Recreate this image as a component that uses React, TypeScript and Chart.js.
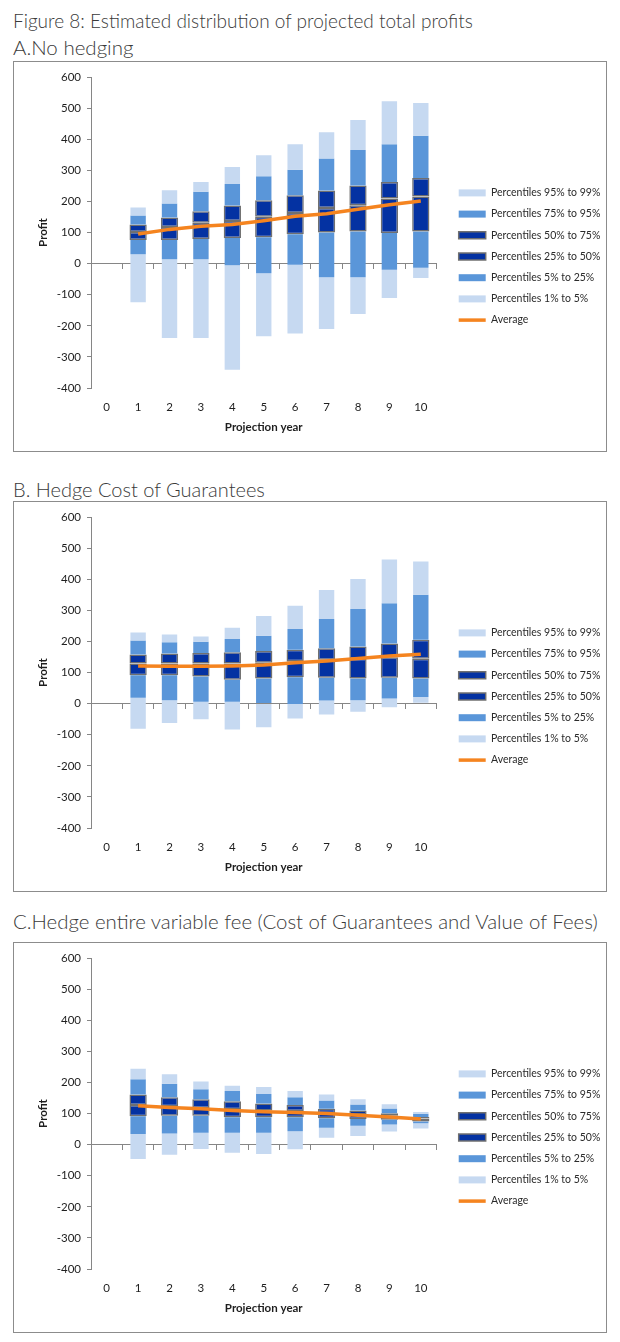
import React, { useEffect, useRef } from "react";
import { Chart, registerables } from "chart.js";

Chart.register(...registerables);

// ---------- data ----------
const years = ["0", "1", "2", "3", "4", "5", "6", "7", "8", "9", "10"];
const yTicks = [-400, -300, -200, -100, 0, 100, 200, 300, 400, 500, 600];

// A. No hedging
const aP99 = [null, 180, 236, 262, 311, 348, 384, 422, 462, 522, 516];
const aP95 = [null, 155, 193, 231, 256, 281, 302, 338, 365, 384, 411];
const aP75 = [null, 126, 148, 168, 187, 204, 220, 235, 251, 262, 275];
const aP50 = [null, 102, 118, 131, 137, 151, 163, 179, 188, 209, 216];
const aP25 = [null, 76, 76, 79, 82, 85, 94, 100, 103, 98, 103];
const aP5 = [null, 30, 14, 14, -5, -31, -4, -44, -44, -20, -13];
const aP1 = [null, -124, -239, -239, -341, -234, -225, -210, -162, -111, -46];
const aAvg = [null, 95, 110, 120, 126, 138, 152, 160, 175, 189, 201];

// B. Hedge Cost of Guarantees
const bP99 = [null, 229, 222, 216, 244, 282, 315, 365, 401, 463, 457];
const bP95 = [null, 203, 197, 199, 208, 218, 240, 272, 304, 323, 350];
const bP75 = [null, 158, 161, 163, 165, 169, 173, 178, 184, 193, 205];
const bP50 = [null, 129, 129, 129, 129, 131, 136, 141, 144, 149, 144];
const bP25 = [null, 91, 91, 87, 77, 81, 85, 83, 81, 83, 81];
const bP5 = [null, 19, 11, 6, 6, 0, -1, 10, 11, 16, 21];
const bP1 = [null, -81, -62, -50, -83, -76, -48, -35, -26, -12, 3];
const bAvg = [null, 121, 120, 120, 121, 124, 131, 137, 145, 153, 159];

// C. Hedge entire variable fee
const cP99 = [null, 244, 226, 203, 189, 185, 172, 161, 146, 130, 105];
const cP95 = [null, 210, 196, 178, 172, 163, 152, 142, 129, 116, 99];
const cP75 = [null, 161, 152, 146, 139, 132, 127, 115, 110, 101, 89];
const cP50 = [null, 127, 123, 118, 114, 110, 108, 101, 97, 93, 84];
const cP25 = [null, 91, 93, 93, 88, 88, 88, 85, 82, 80, 74];
const cP5 = [null, 34, 36, 38, 38, 38, 43, 54, 61, 65, 69];
const cP1 = [null, -46, -33, -14, -26, -30, -15, 22, 28, 42, 52];
const cAvg = [null, 125, 119, 115, 110, 106, 103, 100, 94, 89, 82];

const bandLabels = [
  "Percentiles 95% to 99%",
  "Percentiles 75% to 95%",
  "Percentiles 50% to 75%",
  "Percentiles 25% to 50%",
  "Percentiles 5% to 25%",
  "Percentiles 1% to 5%",
];

// ---------- styles ----------
const LIGHT = "#c6d9f1";
const MEDIUM = "#5a96d9";
const DARK = "#0432a2";
const EDGE = "#707070";
const ORANGE = "#f5841f";
const AXIS = "#868686";
const FONT = "Lato, 'Open Sans', sans-serif";
const TEXT = "#1e1e1e";

type Num = number | null;

function band(lo: Num[], hi: Num[]) {
  return years.map((_, i) => (lo[i] == null || hi[i] == null ? null : [lo[i] as number, hi[i] as number]));
}

function PercentileChart(props: {
  p1: Num[]; p5: Num[]; p25: Num[]; p50: Num[]; p75: Num[]; p95: Num[]; p99: Num[]; avg: Num[];
}) {
  const ref = useRef<HTMLCanvasElement>(null);
  useEffect(() => {
    const { p1, p5, p25, p50, p75, p95, p99, avg } = props;
    const bar = (label: string, data: any, bg: string, edged: boolean) => ({
      type: "bar" as const,
      label,
      data,
      backgroundColor: bg,
      borderColor: edged ? EDGE : bg,
      borderWidth: edged ? 1.5 : 0,
      borderSkipped: false,
      grouped: false,
      categoryPercentage: 1,
      barPercentage: edged ? 0.55 : 0.49,
      pointStyle: "rect",
      xAxisID: "x",
      yAxisID: "y",
      order: 1,
    });
    const datasets: any[] = [
      bar(bandLabels[0], band(p95, p99), LIGHT, false),
      bar(bandLabels[1], band(p75, p95), MEDIUM, false),
      bar(bandLabels[2], band(p50, p75), DARK, true),
      bar(bandLabels[3], band(p25, p50), DARK, true),
      bar(bandLabels[4], band(p5, p25), MEDIUM, false),
      bar(bandLabels[5], band(p1, p5), LIGHT, false),
      {
        type: "line",
        label: "Average",
        data: avg,
        borderColor: ORANGE,
        backgroundColor: ORANGE,
        borderWidth: 3.5,
        pointRadius: 0,
        pointStyle: "line",
        tension: 0,
        xAxisID: "x",
        yAxisID: "y",
        order: -1,
      },
    ];
    const chart = new Chart(ref.current!, {
      type: "bar",
      data: { labels: years, datasets },
      options: {
        animation: false,
        responsive: false,
        maintainAspectRatio: false,
        layout: { padding: 0 },
        plugins: {
          tooltip: { enabled: false },
          title: { display: false },
          legend: {
            position: "right",
            align: "center",
            maxWidth: 158,
            labels: {
              usePointStyle: true,
              pointStyleWidth: 27,
              boxHeight: 7,
              padding: 10.7,
              color: "#2a2a2a",
              font: { family: FONT, size: 10.5 },
              sort: (a: any, b: any) => a.datasetIndex - b.datasetIndex,
            },
          },
        },
        scales: {
          x: {
            type: "category",
            position: "bottom",
            offset: true,
            grid: { display: false, offset: true },
            border: { display: false },
            ticks: { padding: 4, color: TEXT, font: { family: FONT, size: 11.5 } },
            title: {
              display: true,
              text: "Projection year",
              color: TEXT,
              font: { family: FONT, size: 11.5, weight: "bold" },
              padding: { top: 0, bottom: 17 },
            },
            afterFit: (s: any) => { s.height = 63; },
          },
          xZero: {
            type: "category",
            position: { y: 0 },
            offset: true,
            z: 1,
            grid: { display: true, drawOnChartArea: false, drawTicks: true, tickLength: 5, color: AXIS, offset: true },
            border: { display: true, color: AXIS, width: 1 },
            ticks: { display: false },
          },
          xTop: {
            type: "category",
            position: "top",
            grid: { display: false },
            border: { display: false },
            ticks: { display: false },
            afterFit: (s: any) => { s.height = 15; },
          },
          y: {
            type: "linear",
            position: "left",
            min: yTicks[0],
            max: yTicks[yTicks.length - 1],
            afterBuildTicks: (s: any) => { s.ticks = yTicks.map((v) => ({ value: v })); },
            ticks: { padding: 6, color: TEXT, font: { family: FONT, size: 11.5 } },
            grid: { drawOnChartArea: false, drawTicks: true, tickLength: 4, color: AXIS },
            border: { display: true, color: AXIS, width: 1 },
            title: {
              display: true,
              text: "Profit",
              color: TEXT,
              font: { family: FONT, size: 11.5, weight: "bold" },
              padding: { top: 22, bottom: 0 },
            },
            afterFit: (s: any) => { s.width = 77; },
          },
          yPad: {
            type: "linear",
            position: "right",
            grid: { display: false },
            border: { display: false },
            ticks: { display: false },
            afterFit: (s: any) => { s.width = 11.5; },
          },
        },
      } as any,
    });
    return () => chart.destroy();
  }, []);
  return <canvas ref={ref} width={592} height={389} style={{ display: "block", width: 592, height: 389 }} />;
}

const titleStyle: React.CSSProperties = {
  position: "absolute",
  left: 13,
  margin: 0,
  fontFamily: "Lato, 'Open Sans', sans-serif",
  fontWeight: 300,
  fontSize: 20,
  lineHeight: "24px",
  color: "#3a3a3a",
  whiteSpace: "nowrap",
};

const boxStyle = (top: number, height: number): React.CSSProperties => ({
  position: "absolute",
  left: 13,
  top,
  width: 594,
  height,
  boxSizing: "border-box",
  border: "1px solid #8c8c8c",
  background: "#fff",
});

export default function App() {
  return (
    <div style={{ position: "absolute", left: 0, top: 0, width: 620, height: 1342, background: "#fff" }}>
      <div style={{ ...titleStyle, top: 9, fontSize: 19 }}>Figure 8: Estimated distribution of projected total profits</div>
      <div style={{ ...titleStyle, top: 35, fontSize: 20.5 }}>A.No hedging</div>
      <div style={boxStyle(61, 391)}>
        <PercentileChart p1={aP1} p5={aP5} p25={aP25} p50={aP50} p75={aP75} p95={aP95} p99={aP99} avg={aAvg} />
      </div>
      <div style={{ ...titleStyle, top: 477 }}>B. Hedge Cost of Guarantees</div>
      <div style={boxStyle(501, 391)}>
        <PercentileChart p1={bP1} p5={bP5} p25={bP25} p50={bP50} p75={bP75} p95={bP95} p99={bP99} avg={bAvg} />
      </div>
      <div style={{ ...titleStyle, top: 909, fontSize: 20.4 }}>C.Hedge entire variable fee (Cost of Guarantees and Value of Fees)</div>
      <div style={boxStyle(942, 391)}>
        <PercentileChart p1={cP1} p5={cP5} p25={cP25} p50={cP50} p75={cP75} p95={cP95} p99={cP99} avg={cAvg} />
      </div>
    </div>
  );
}
